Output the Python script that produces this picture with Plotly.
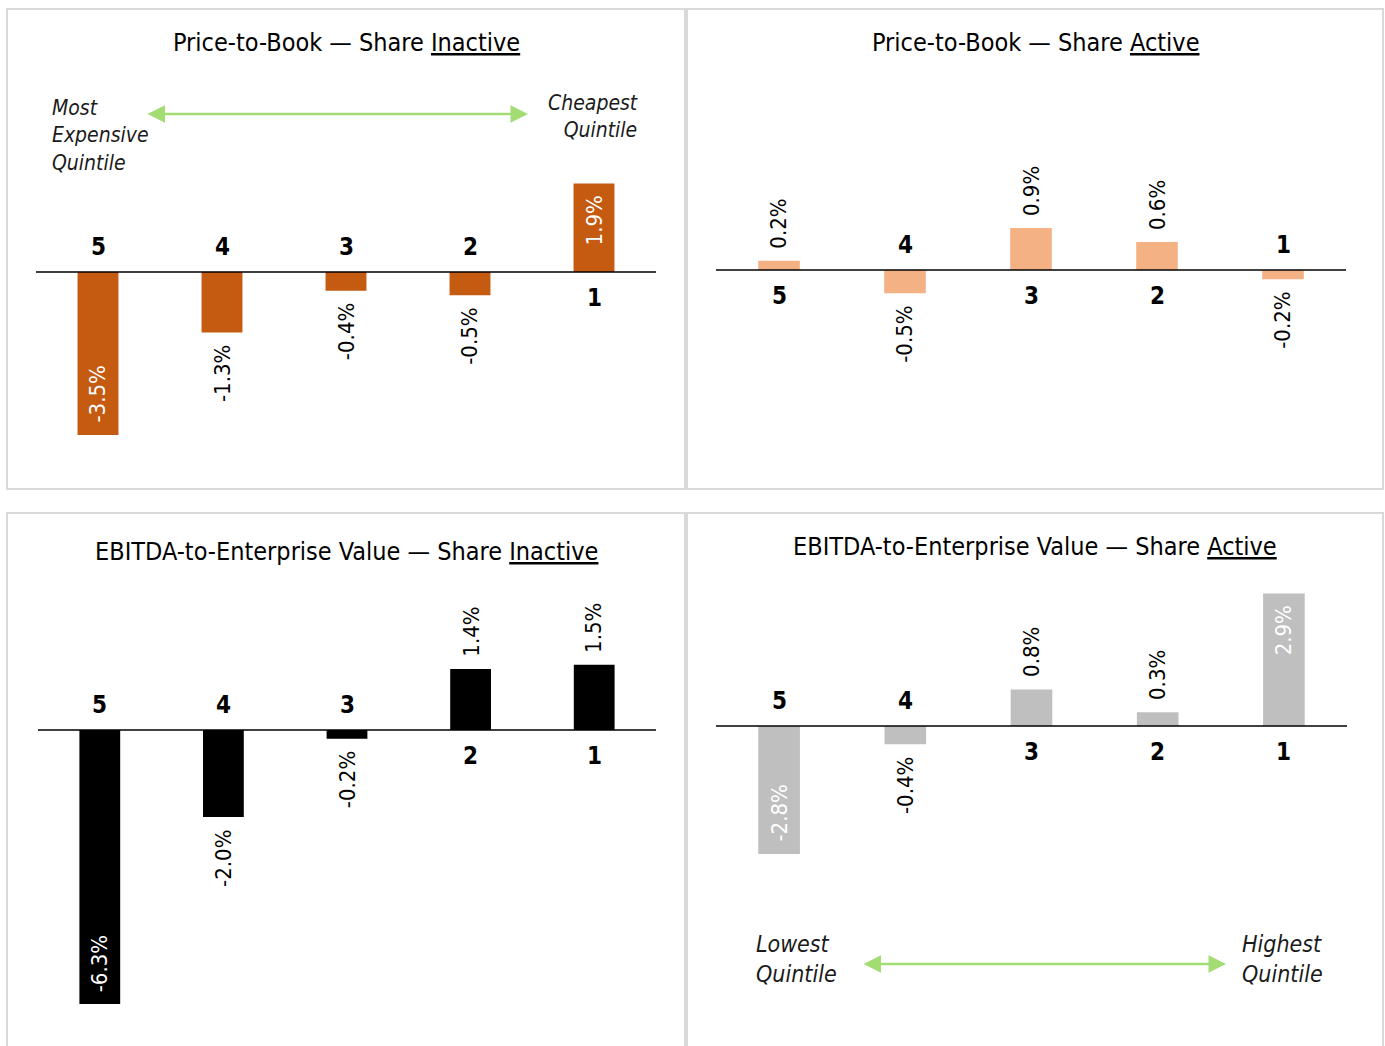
import plotly.graph_objects as go

# ---------------- data ----------------
categories = ["5", "4", "3", "2", "1"]
pb_inactive = [-3.5, -1.3, -0.4, -0.5, 1.9]
pb_active = [0.2, -0.5, 0.9, 0.6, -0.2]
ev_inactive = [-6.3, -2.0, -0.2, 1.4, 1.5]
ev_active = [-2.8, -0.4, 0.8, 0.3, 2.9]

title_pb_inactive = 'Price-to-Book — Share <span style="text-decoration:underline">Inactive</span>'
title_pb_active = 'Price-to-Book — Share <span style="text-decoration:underline">Active</span>'
title_ev_inactive = 'EBITDA-to-Enterprise Value — Share <span style="text-decoration:underline">Inactive</span>'
title_ev_active = 'EBITDA-to-Enterprise Value — Share <span style="text-decoration:underline">Active</span>'

pb_left_note = "Most<br>Expensive<br>Quintile"
pb_right_note = "Cheapest<br>Quintile"
ev_left_note = "Lowest<br>Quintile"
ev_right_note = "Highest<br>Quintile"

# ---------------- layout helpers ----------------
W, H = 1385, 1046
FONT = "Liberation Sans Narrow, DejaVu Sans Condensed, Arial Narrow, sans-serif"
GREEN = "#a3dc72"
BORDER = "#d9d9d9"


def fx(px):
    return px / W


def fy(py):
    return 1 - py / H


panels = [
    dict(values=pb_inactive, title=title_pb_inactive, color="#c55a11",
         x0=36, x1=656, zero=272, scale=46.6, top=150, bot=480,
         inside=[0, 4], title_x=346, title_y=43),
    dict(values=pb_active, title=title_pb_active, color="#f4b183",
         x0=716, x1=1346, zero=270, scale=46.6, top=150, bot=480,
         inside=[], title_x=1035, title_y=43),
    dict(values=ev_inactive, title=title_ev_inactive, color="#000000",
         x0=38, x1=656, zero=730, scale=43.5, top=580, bot=1040,
         inside=[0], title_x=346, title_y=551),
    dict(values=ev_active, title=title_ev_active, color="#bfbfbf",
         x0=716, x1=1347, zero=726, scale=45.7, top=580, bot=1040,
         inside=[0, 4], title_x=1035, title_y=546),
]

fig = go.Figure()
annotations = []
shapes = []
layout_axes = {}

for i, p in enumerate(panels, start=1):
    xa = "x" if i == 1 else f"x{i}"
    ya = "y" if i == 1 else f"y{i}"
    xkey = "xaxis" if i == 1 else f"xaxis{i}"
    ykey = "yaxis" if i == 1 else f"yaxis{i}"
    ymax = (p["zero"] - p["top"]) / p["scale"]
    ymin = -(p["bot"] - p["zero"]) / p["scale"]
    layout_axes[xkey] = dict(domain=[fx(p["x0"]), fx(p["x1"])], range=[-0.5, 4.5],
                             type="category", visible=False, anchor=ya, fixedrange=True)
    layout_axes[ykey] = dict(domain=[fy(p["bot"]), fy(p["top"])], range=[ymin, ymax],
                             visible=False, anchor=xa, fixedrange=True)

    fig.add_trace(go.Bar(x=categories, y=p["values"], width=0.33,
                         marker=dict(color=p["color"], line=dict(width=0)),
                         xaxis=xa, yaxis=ya, hoverinfo="skip", showlegend=False,
                         cliponaxis=False))

    # zero line
    shapes.append(dict(type="line", xref=f"{xa} domain", x0=0, x1=1, yref=ya, y0=0, y1=0,
                       line=dict(color="black", width=1.5), layer="above"))

    for j, (cat, v) in enumerate(zip(categories, p["values"])):
        # category label on opposite side of the bar
        annotations.append(dict(xref=xa, yref=ya, x=j, y=0, text=f"<b>{cat}</b>",
                                showarrow=False, yanchor="middle",
                                yshift=25 if v < 0 else -26,
                                font=dict(family=FONT, size=24, color="black")))
        # value label
        label = f"{v:.1f}%"
        if j in p["inside"]:
            anchor = "bottom" if v < 0 else "top"
            shift = 10 if v < 0 else -10
            col = "white"
        else:
            anchor = "top" if v < 0 else "bottom"
            shift = -11 if v < 0 else 10
            col = "black"
        annotations.append(dict(xref=xa, yref=ya, x=j, y=v, text=label, textangle=-90,
                                showarrow=False, yanchor=anchor, yshift=shift,
                                font=dict(family=FONT, size=22, color=col)))

    annotations.append(dict(xref="paper", yref="paper", x=fx(p["title_x"]), y=fy(p["title_y"]),
                            text=p["title"], showarrow=False, xanchor="center", yanchor="middle",
                            font=dict(family=FONT, size=25, color="black")))

# panel borders
shapes += [
    dict(type="rect", xref="paper", yref="paper", x0=fx(7), x1=fx(685), y0=fy(489), y1=fy(9),
         line=dict(color=BORDER, width=2)),
    dict(type="rect", xref="paper", yref="paper", x0=fx(687), x1=fx(1383), y0=fy(489), y1=fy(9),
         line=dict(color=BORDER, width=2)),
    dict(type="rect", xref="paper", yref="paper", x0=fx(7), x1=fx(685), y0=fy(1060), y1=fy(513),
         line=dict(color=BORDER, width=2)),
    dict(type="rect", xref="paper", yref="paper", x0=fx(687), x1=fx(1383), y0=fy(1060), y1=fy(513),
         line=dict(color=BORDER, width=2)),
]

# notes and arrows
note_font = dict(family=FONT, size=21, color="#1a1a1a")
note_font_big = dict(family=FONT, size=23, color="#1a1a1a")
annotations += [
    dict(xref="paper", yref="paper", x=fx(50), y=fy(136), text=f"<i>{pb_left_note}</i>",
         showarrow=False, xanchor="left", yanchor="middle", align="left", font=note_font),
    dict(xref="paper", yref="paper", x=fx(640), y=fy(116), text=f"<i>{pb_right_note}</i>",
         showarrow=False, xanchor="right", yanchor="middle", align="right", font=note_font),
    dict(xref="paper", yref="paper", x=fx(754), y=fy(959), text=f"<i>{ev_left_note}</i>",
         showarrow=False, xanchor="left", yanchor="middle", align="left", font=note_font_big),
    dict(xref="paper", yref="paper", x=fx(1240), y=fy(959), text=f"<i>{ev_right_note}</i>",
         showarrow=False, xanchor="left", yanchor="middle", align="left", font=note_font_big),
    dict(xref="paper", yref="paper", x=fx(528), y=fy(114), ax=-(528 - 146), ay=0,
         text="", showarrow=True, arrowhead=2, arrowside="end+start", arrowsize=1.4,
         arrowwidth=2.5, arrowcolor=GREEN, standoff=0, startstandoff=0),
    dict(xref="paper", yref="paper", x=fx(1226), y=fy(964), ax=-(1226 - 862), ay=0,
         text="", showarrow=True, arrowhead=2, arrowside="end+start", arrowsize=1.4,
         arrowwidth=2.5, arrowcolor=GREEN, standoff=0, startstandoff=0),
]

fig.update_layout(width=W, height=H, margin=dict(l=0, r=0, t=0, b=0),
                  paper_bgcolor="white", plot_bgcolor="white", template="none",
                  annotations=annotations, shapes=shapes, **layout_axes)

fig.write_html("out.html", config={"displayModeBar": False},
               post_script="document.body.style.margin='0';document.body.style.overflow='hidden';")
